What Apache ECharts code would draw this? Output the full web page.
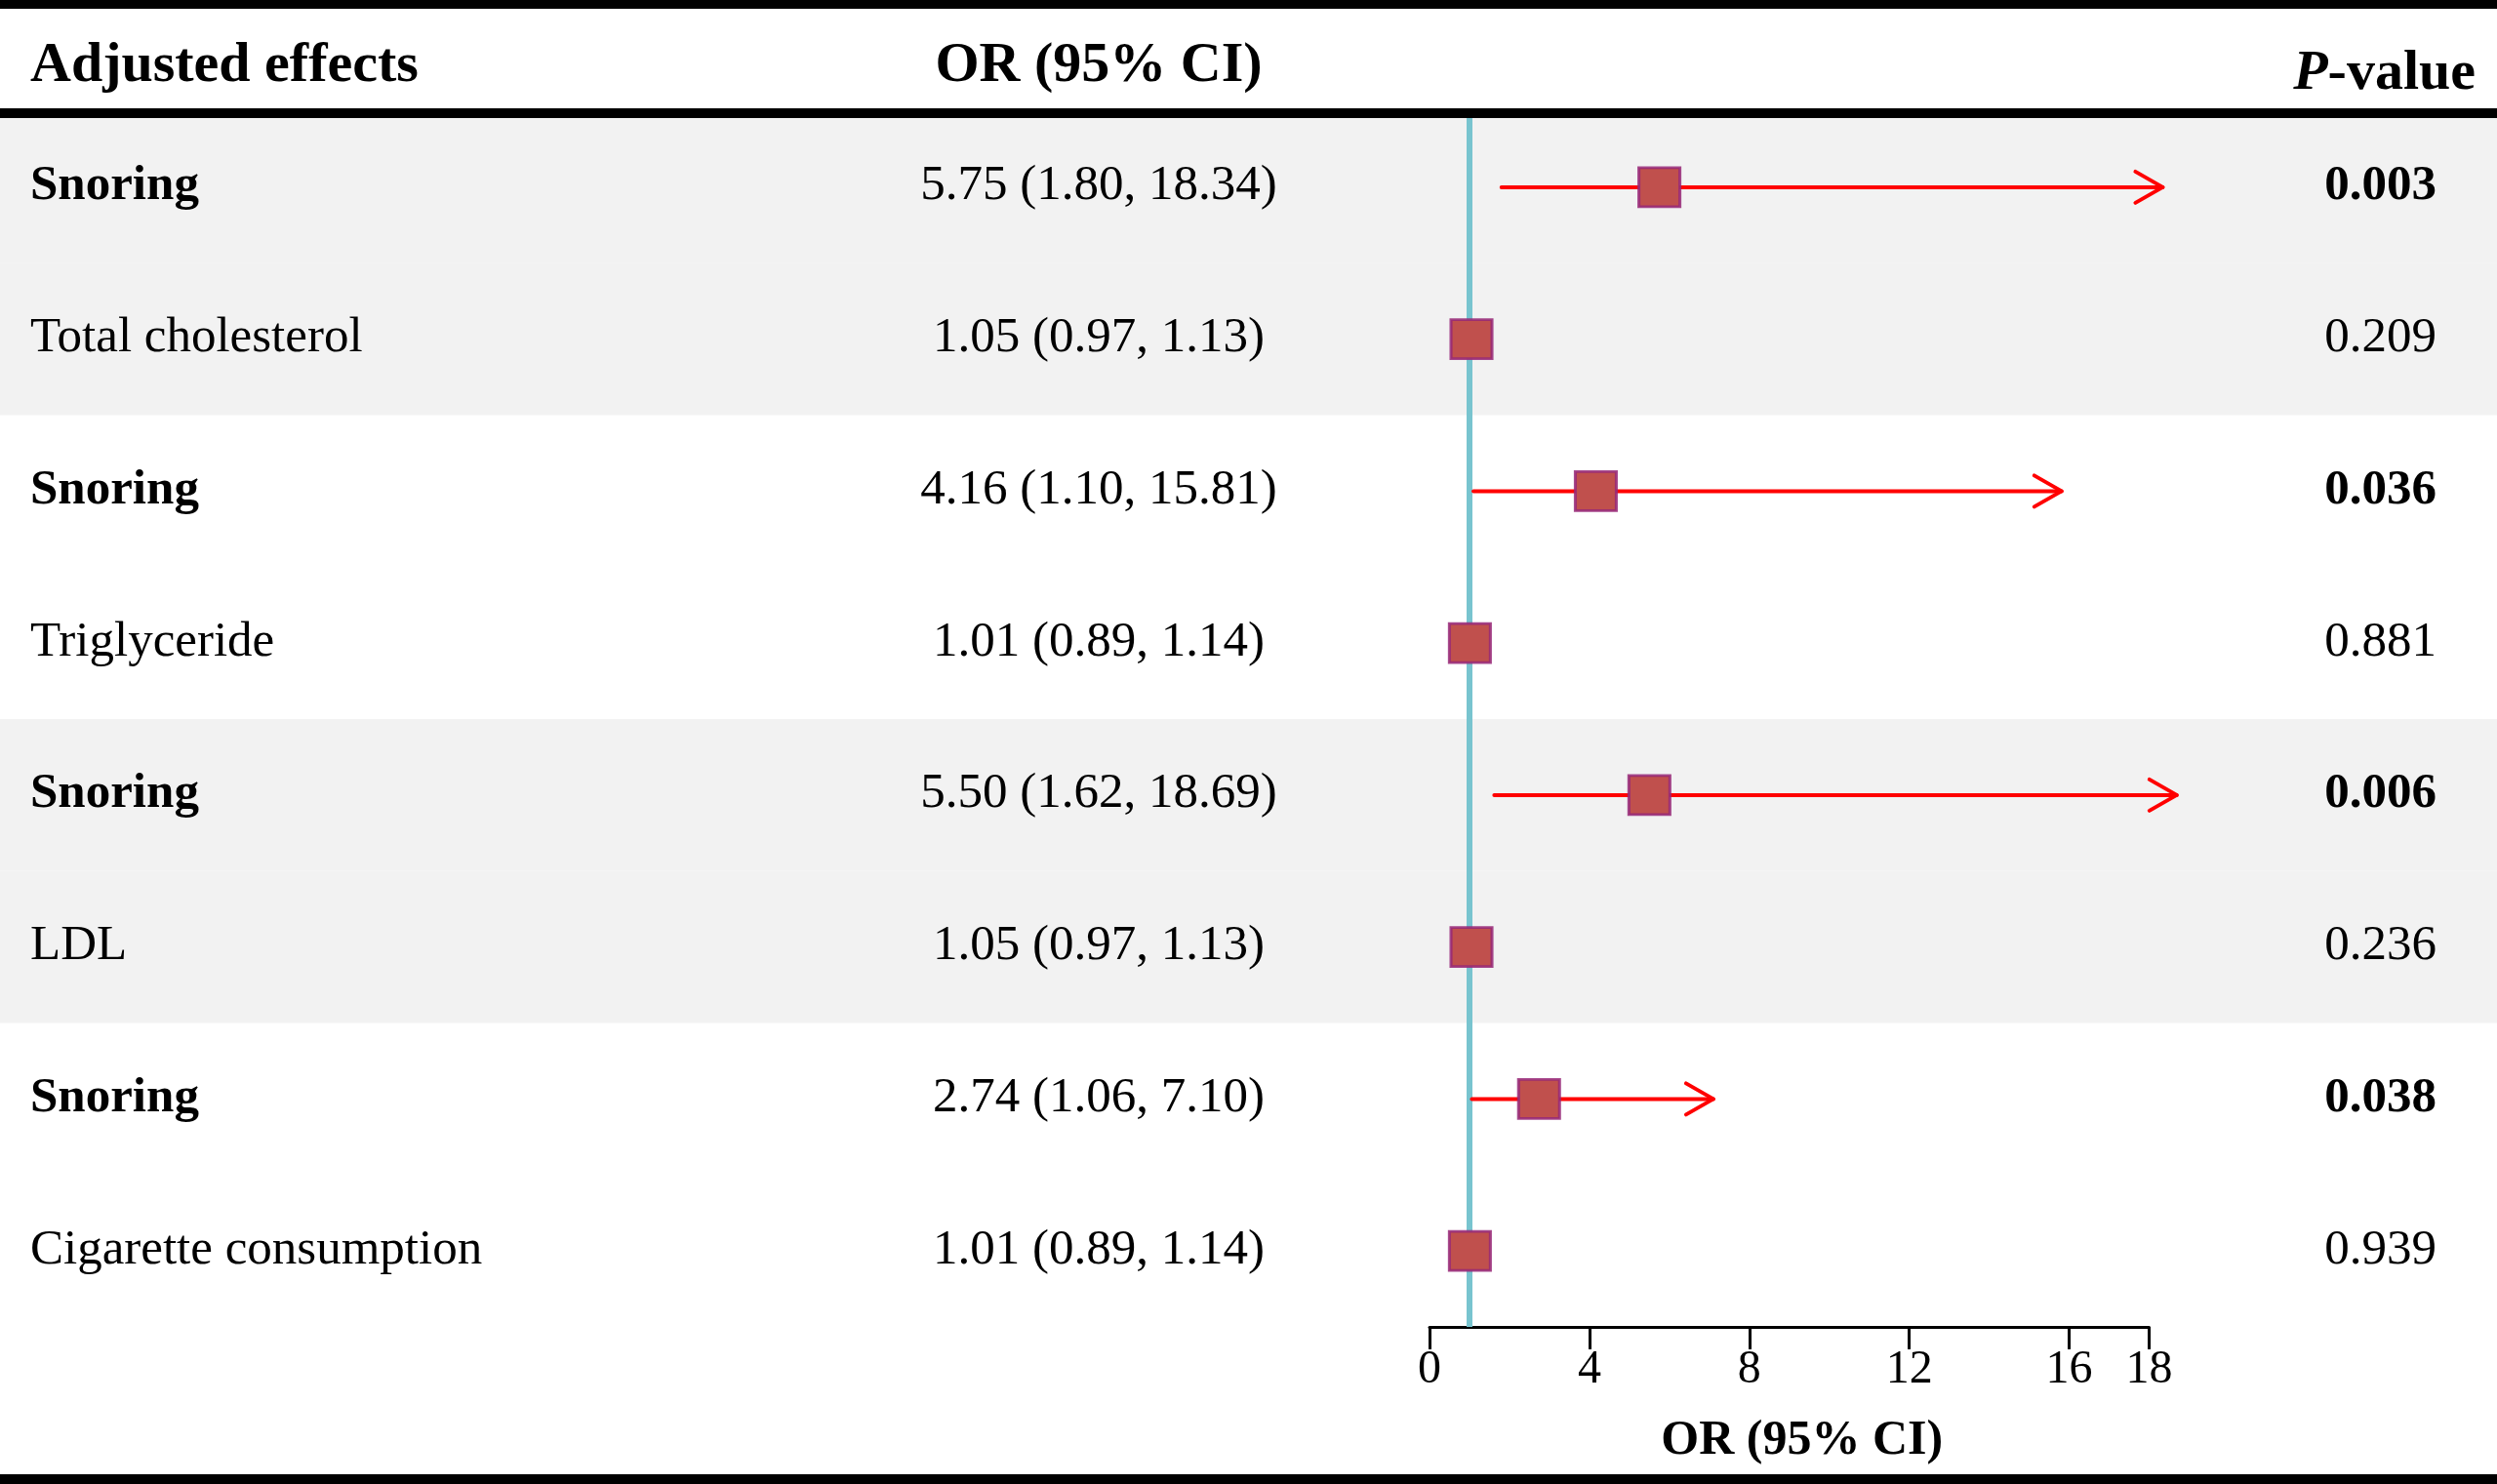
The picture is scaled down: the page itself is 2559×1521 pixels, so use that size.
<!DOCTYPE html>
<html>
<head>
<meta charset="utf-8">
<title>Adjusted effects forest plot</title>
<script src="https://cdn.jsdelivr.net/npm/echarts@6/dist/echarts.min.js"></script>
<style>
  html, body { margin: 0; padding: 0; background: #fff; }
  #chart { width: 2559px; height: 1521px; }
</style>
</head>
<body>
<div id="chart"></div>
<script>
// rows of the table, top to bottom
var labels = ['Snoring', 'Total cholesterol', 'Snoring', 'Triglyceride', 'Snoring', 'LDL', 'Snoring', 'Cigarette consumption']
var orValues = [5.75, 1.05, 4.16, 1.01, 5.50, 1.05, 2.74, 1.01]
var ciLower = [1.80, 0.97, 1.10, 0.89, 1.62, 0.97, 1.06, 0.89]
var ciUpper = [18.34, 1.13, 15.81, 1.14, 18.69, 1.13, 7.10, 1.14]
var pValues = ['0.003', '0.209', '0.036', '0.881', '0.006', '0.236', '0.038', '0.939']

// x axis of the plot
var xMin = 0
var xMax = 18
var xInterval = 4
var nullValue = 1

var FONT = '"Liberation Serif", "Times New Roman", serif'
var W = 2559

var myChart = echarts.init(document.getElementById('chart'))

function fmt(v) { return v.toFixed(2) }

var tableData = labels.map(function (l, i) { return [0, i] })
// [lower, row, upper]
var ciData = labels.map(function (l, i) { return [ciLower[i], i, ciUpper[i]] })
var pointData = labels.map(function (l, i) { return [orValues[i], i] })

var option = {
  animation: false,
  backgroundColor: '#fff',
  grid: [
    // full-width grid for the table text and shading
    { left: 0, right: 0, top: 114, bottom: 161 },
    // forest plot
    { left: 1465, right: W - 2202.5, top: 114, bottom: 161 },
  ],
  xAxis: [
    { gridIndex: 0, type: 'value', min: 0, max: 1, show: false },
    {
      gridIndex: 1,
      type: 'value',
      min: xMin,
      max: xMax,
      interval: xInterval,
      name: 'OR (95% CI)',
      nameLocation: 'middle',
      nameGap: 92,
      nameTextStyle: { fontFamily: FONT, fontSize: 50, fontWeight: 'bold', color: '#000', padding: [0, 0, 0, 26] },
      axisLine: { show: true, onZero: false, lineStyle: { color: '#000', width: 3 } },
      axisTick: { show: true, length: 23, lineStyle: { color: '#000', width: 3 } },
      axisLabel: { margin: 20, fontFamily: FONT, fontSize: 48, color: '#000' },
      splitLine: { show: false },
    },
  ],
  yAxis: [
    { gridIndex: 0, type: 'category', data: labels, inverse: true, show: false },
    { gridIndex: 1, type: 'category', data: labels, inverse: true, show: false },
  ],
  graphic: [
    { type: 'rect', z: 100, shape: { x: 0, y: 0, width: W, height: 9 }, style: { fill: '#000' } },
    { type: 'rect', z: 100, shape: { x: 0, y: 111, width: W, height: 10 }, style: { fill: '#000' } },
    { type: 'rect', z: 100, shape: { x: 0, y: 1511, width: W, height: 10 }, style: { fill: '#000' } },
    {
      type: 'text', z: 100, x: 31, y: 68,
      style: { text: 'Adjusted effects', fontFamily: FONT, fontSize: 58, fontWeight: 'bold', fill: '#000', align: 'left', verticalAlign: 'middle' },
    },
    {
      type: 'text', z: 100, x: 1126, y: 68,
      style: { text: 'OR (95% CI)', fontFamily: FONT, fontSize: 58, fontWeight: 'bold', fill: '#000', align: 'center', verticalAlign: 'middle' },
    },
    {
      type: 'text', z: 100, x: 2537, y: 76,
      style: {
        text: '{i|P}-value',
        fontFamily: FONT, fontSize: 58, fontWeight: 'bold', fill: '#000', align: 'right', verticalAlign: 'middle',
        rich: { i: { fontFamily: FONT, fontSize: 58, fontWeight: 'bold', fontStyle: 'italic', fill: '#000' } },
      },
    },
  ],
  series: [
    {
      // table: shaded bands + text columns
      type: 'custom',
      xAxisIndex: 0,
      yAxisIndex: 0,
      z: 1,
      silent: true,
      data: tableData,
      renderItem: function (params, api) {
        var i = api.value(1)
        var c = api.coord([0, i])
        var h = api.size([0, 1])[1]
        var w = api.getWidth()
        var bold = parseFloat(pValues[i]) < 0.05
        var shaded = Math.floor(i / 2) % 2 === 0
        var ty = c[1] - 1
        var children = []
        if (shaded) {
          children.push({ type: 'rect', shape: { x: 0, y: c[1] - h / 2, width: w, height: h }, style: { fill: '#f2f2f2' } })
        }
        children.push({
          type: 'text', x: 31, y: ty,
          style: { text: labels[i], fontFamily: FONT, fontSize: 51, fontWeight: bold ? 'bold' : 'normal', fill: '#000', align: 'left', verticalAlign: 'middle' },
        })
        children.push({
          type: 'text', x: 1126, y: ty,
          style: {
            text: fmt(orValues[i]) + ' (' + fmt(ciLower[i]) + ', ' + fmt(ciUpper[i]) + ')',
            fontFamily: FONT, fontSize: 51, fill: '#000', align: 'center', verticalAlign: 'middle',
          },
        })
        children.push({
          type: 'text', x: 2497, y: ty,
          style: { text: pValues[i], fontFamily: FONT, fontSize: 51, fontWeight: bold ? 'bold' : 'normal', fill: '#000', align: 'right', verticalAlign: 'middle' },
        })
        return { type: 'group', children: children }
      },
    },
    {
      // confidence intervals with arrow at the upper end
      type: 'custom',
      xAxisIndex: 1,
      yAxisIndex: 1,
      z: 3,
      clip: false,
      silent: true,
      data: ciData,
      renderItem: function (params, api) {
        var i = api.value(1)
        var lo = api.value(0)
        var p0 = api.coord([lo, i])
        var p1 = api.coord([api.value(2), i])
        var style = { stroke: '#ff0000', lineWidth: 4, lineCap: 'round', lineJoin: 'round', fill: null }
        var children = [{ type: 'line', shape: { x1: p0[0], y1: p0[1], x2: p1[0], y2: p1[1] }, style: style }]
        if (lo > nullValue) {
          children.push({
            type: 'polyline',
            shape: { points: [[p1[0] - 28, p1[1] - 16], [p1[0], p1[1]], [p1[0] - 28, p1[1] + 16]] },
            style: style,
          })
        }
        return { type: 'group', children: children }
      },
    },
    {
      // point estimates + reference line at OR = 1
      type: 'scatter',
      xAxisIndex: 1,
      yAxisIndex: 1,
      z: 5,
      silent: true,
      symbol: 'rect',
      symbolSize: [42, 40],
      itemStyle: { color: '#c0504d', borderColor: 'rgba(150, 40, 120, 0.85)', borderWidth: 3, opacity: 1 },
      data: pointData,
      markLine: {
        silent: true,
        symbol: 'none',
        z: 2,
        label: { show: false },
        lineStyle: { color: '#78c4cf', width: 6, type: 'solid' },
        data: [{ xAxis: nullValue }],
      },
    },
  ],
}

myChart.setOption(option)
</script>
</body>
</html>
